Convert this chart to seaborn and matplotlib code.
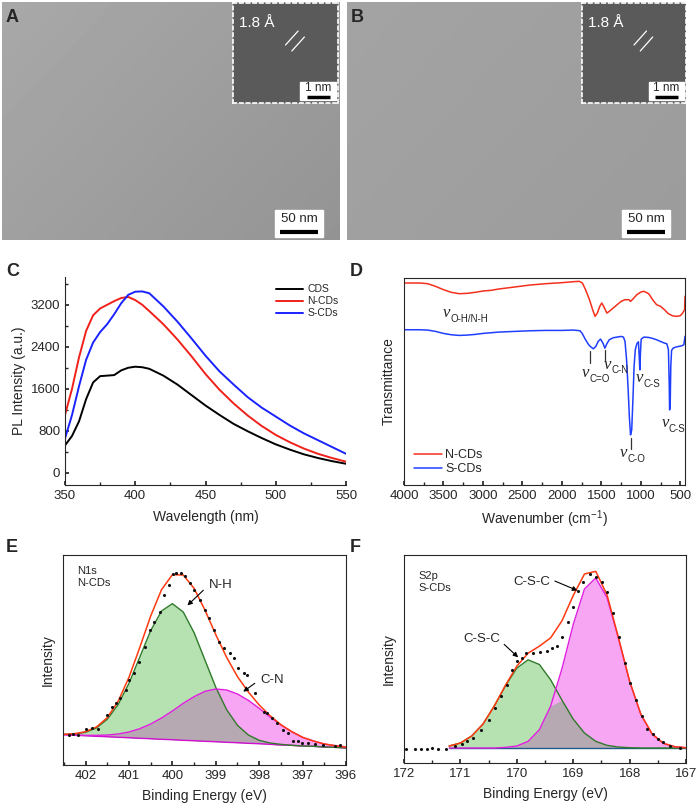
import numpy as np
import pandas as pd
import matplotlib
matplotlib.use("Agg")
import matplotlib.pyplot as plt
from matplotlib.ticker import MultipleLocator
from matplotlib.patches import Rectangle
import seaborn as sns

# ---------------- data ----------------
# Panel C: PL spectra
wavelength = [350, 355, 360, 365, 370, 375, 380, 385, 390, 395, 400, 405, 410, 420, 430, 440,
              450, 460, 470, 480, 490, 500, 510, 520, 530, 540, 550]
pl_cds = [520, 700, 980, 1400, 1720, 1840, 1850, 1860, 1950, 2000, 2020, 2010, 1980, 1850, 1680,
          1480, 1280, 1100, 930, 790, 660, 540, 440, 350, 280, 220, 170]
pl_ncds = [1100, 1600, 2200, 2700, 3000, 3130, 3200, 3270, 3330, 3350, 3290, 3200, 3080, 2830, 2540,
           2220, 1880, 1580, 1320, 1090, 890, 720, 580, 460, 360, 280, 210]
pl_scds = [650, 1100, 1650, 2150, 2480, 2680, 2830, 3020, 3230, 3390, 3450, 3455, 3420, 3170, 2880,
           2560, 2230, 1930, 1680, 1440, 1240, 1070, 900, 750, 620, 490, 360]
pl_labels = ["CDS", "N-CDs", "S-CDs"]

# Panel D: FTIR (arbitrary transmittance units)
wn_n = [4000, 3800, 3700, 3600, 3500, 3400, 3300, 3200, 3100, 3000, 2900, 2800, 2600, 2400, 2200,
        2000, 1850, 1780, 1740, 1700, 1650, 1610, 1580, 1550, 1520, 1495, 1470, 1430, 1400, 1350,
        1300, 1250, 1200, 1150, 1130, 1100, 1050, 1000, 960, 900, 850, 800, 750, 700, 650, 600,
        550, 500, 470, 445, 440]
tr_n = [605, 605, 603, 595, 585, 577, 573, 574, 577, 581, 583, 587, 593, 599, 603,
        606, 609, 610, 605, 585, 555, 525, 505, 515, 535, 545, 535, 515, 520, 530,
        540, 550, 555, 555, 550, 557, 570, 578, 580, 573, 555, 540, 535, 525, 513, 507,
        505, 507, 515, 525, 565]
wn_s = [4000, 3800, 3700, 3600, 3500, 3400, 3300, 3200, 3100, 3000, 2900, 2800, 2600, 2400, 2200,
        2000, 1850, 1770, 1740, 1700, 1660, 1630, 1600, 1570, 1540, 1510, 1480, 1455, 1430, 1400,
        1350, 1300, 1250, 1220, 1200, 1180, 1160, 1145, 1130, 1115, 1100, 1085, 1070, 1050, 1030,
        1020, 1012, 1005, 995, 960, 900, 850, 800, 750, 700, 670, 650, 640, 635, 628, 620, 610,
        590, 560, 520, 480, 455, 440]
tr_s = [465, 465, 464, 460, 454, 450, 448, 449, 451, 454, 456, 458, 460, 462, 463,
        463, 464, 462, 453, 435, 420, 413, 408, 415, 430, 437, 425, 410, 423, 435,
        441, 443, 445, 443, 430, 375, 285, 205, 150, 165, 255, 355, 405, 423, 429,
        385, 345, 395, 437, 443, 442, 439, 435, 430, 425, 423, 405, 305, 225, 235, 355, 403,
        410, 413, 415, 417, 420, 445]

# Panel E: N1s XPS
e_be = [402.5, 402.25, 402.0, 401.75, 401.5, 401.25, 401.0, 400.75, 400.5, 400.25, 400.0, 399.75,
        399.5, 399.25, 399.0, 398.75, 398.5, 398.25, 398.0, 397.75, 397.5, 397.25, 397.0, 396.75,
        396.5, 396.25, 396.0]
e_base = [91, 89, 88, 86, 85, 83, 82, 80, 79, 77, 76, 74, 73, 71, 70, 68, 67, 65, 64, 62, 60, 59,
          57, 56, 54, 53, 51]
e_nh = [92, 93, 98, 111, 137, 181, 245, 324, 403, 462, 484, 459, 397, 315, 233, 166, 119, 90, 74,
        66, 62, 59, 57, 56, 54, 53, 51]
e_cn = [91, 90, 89, 89, 90, 93, 99, 109, 123, 141, 162, 185, 205, 221, 228, 225, 213, 194, 170,
        144, 120, 100, 83, 72, 63, 58, 54]
e_fit = [92, 94, 100, 114, 142, 191, 263, 353, 447, 526, 571, 570, 530, 465, 391, 323, 265, 219,
         180, 148, 121, 100, 83, 72, 63, 58, 54]
e_pts_x = [402.38, 402.28, 402.18, 401.98, 401.85, 401.72, 401.50, 401.39, 401.30, 401.21, 401.08,
           401.00, 400.89, 400.77, 400.64, 400.51, 400.43, 400.29, 400.20, 400.08, 399.99, 399.91,
           399.79, 399.70, 399.59, 399.51, 399.36, 399.24, 399.16, 399.05, 398.93, 398.82, 398.67,
           398.59, 398.48, 398.36, 398.28, 398.09, 397.90, 397.82, 397.71, 397.59, 397.44, 397.33,
           397.21, 397.10, 397.02, 396.87, 396.71, 396.52, 396.25, 396.14]
e_pts_y = [90, 93, 90, 107, 110, 107, 150, 175, 185, 200, 225, 255, 275, 310, 355, 405, 430, 460,
           510, 540, 573, 575, 575, 567, 545, 525, 495, 465, 440, 405, 370, 350, 335, 320, 290, 275,
           270, 215, 160, 155, 140, 127, 105, 95, 73, 73, 65, 65, 62, 60, 57, 60]

# Panel F: S2p XPS
f_be = [171.2, 171.0, 170.8, 170.6, 170.4, 170.2, 170.0, 169.8, 169.6, 169.4, 169.2, 169.0, 168.8,
        168.6, 168.4, 168.2, 168.0, 167.8, 167.6, 167.4, 167.2, 167.0]
f_base = [45] * 22
f_csc1 = [51, 60, 81, 117, 171, 232, 285, 310, 296, 250, 189, 132, 90, 65, 53, 48, 46, 45, 45, 45,
          45, 45]
f_csc2 = [45, 45, 45, 45, 45, 47, 51, 65, 100, 171, 283, 416, 523, 556, 497, 376, 245, 146, 87,
          59, 49, 46]
f_fit = [51, 60, 81, 117, 171, 234, 291, 330, 351, 376, 427, 503, 568, 576, 505, 378, 246, 146, 87,
         59, 49, 46]
f_pts_x = [171.96, 171.81, 171.69, 171.59, 171.50, 171.40, 171.26, 171.10, 170.98, 170.89, 170.77,
           170.63, 170.50, 170.39, 170.28, 170.18, 170.09, 170.00, 169.91, 169.83, 169.71, 169.59,
           169.47, 169.38, 169.29, 169.19, 169.09, 169.00, 168.91, 168.82, 168.70, 168.59, 168.49,
           168.40, 168.29, 168.18, 168.08, 167.99, 167.88, 167.78, 167.69, 167.59, 167.49, 167.40,
           167.28, 167.10]
f_pts_y = [43, 42, 43, 43, 45, 43, 43, 50, 58, 65, 75, 98, 130, 165, 200, 235, 280, 305, 315, 330,
           330, 335, 338, 345, 352, 380, 425, 470, 517, 545, 568, 560, 545, 515, 450, 378, 300, 240,
           190, 140, 103, 88, 72, 62, 52, 45]

# ---------------- style ----------------
sns.set_theme(style="ticks")
plt.rcParams["font.family"] = ["Liberation Sans", "DejaVu Sans"]
plt.rcParams["mathtext.fontset"] = "custom"
plt.rcParams["mathtext.rm"] = "Liberation Sans"
plt.rcParams["mathtext.it"] = "Liberation Sans:italic"
plt.rcParams["axes.linewidth"] = 0.8

W, H = 699, 811
fig = plt.figure(figsize=(W / 100, H / 100), dpi=100)
fig.patch.set_facecolor("white")


def px_axes(x0, y0, x1, y1):
    return fig.add_axes([x0 / W, 1 - y1 / H, (x1 - x0) / W, (y1 - y0) / H])


def letter(x, y, s):
    fig.text(x / W, 1 - y / H, s, fontsize=13, fontweight="bold", ha="left", va="center")


TICK = 9.5
LAB = 10


# ---------------- TEM panels (A, B) ----------------
def tem_panel(x0, y0, x1, y1, ix0, iy0, ix1, iy1, shade, bar):
    ax = px_axes(x0, y0, x1, y1)
    g = np.linspace(0, 1, 50)
    img = shade[0] + (shade[1] - shade[0]) * np.add.outer(g * 0.4, g * 0.6)
    ax.imshow(img, cmap="gray", vmin=0, vmax=1, extent=[0, 1, 0, 1], aspect="auto",
              interpolation="bilinear")
    ax.set_xlim(0, 1)
    ax.set_ylim(0, 1)
    ax.set_xticks([])
    ax.set_yticks([])
    for s in ax.spines.values():
        s.set_visible(False)
    bx0, by0, bx1, by1 = bar
    fx = lambda v: (v - x0) / (x1 - x0)
    fy = lambda v: 1 - (v - y0) / (y1 - y0)
    ax.add_patch(Rectangle((fx(bx0), fy(by1)), fx(bx1) - fx(bx0), fy(by0) - fy(by1),
                           color="white"))
    ax.text((fx(bx0) + fx(bx1)) / 2, fy(by0 + 9), "50 nm", fontsize=9.5, ha="center",
            va="center")
    ax.plot([fx(bx0 + 5), fx(bx1 - 5)], [fy(by1 - 5), fy(by1 - 5)], color="black", lw=3,
            solid_capstyle="butt")
    # inset HRTEM
    axi = px_axes(ix0, iy0, ix1, iy1)
    axi.set_facecolor("#5a5a5a")
    axi.set_xlim(0, 1)
    axi.set_ylim(0, 1)
    axi.set_xticks([])
    axi.set_yticks([])
    for s in axi.spines.values():
        s.set_color("white")
        s.set_linestyle((0, (2, 2)))
        s.set_linewidth(1.2)
    axi.text(0.06, 0.80, "1.8 Å", color="white", fontsize=11, ha="left", va="center")
    axi.plot([0.5, 0.62], [0.58, 0.72], color="white", lw=0.9)
    axi.plot([0.56, 0.68], [0.52, 0.66], color="white", lw=0.9)
    axi.add_patch(Rectangle((0.64, 0.03), 0.34, 0.18, color="white"))
    axi.text(0.81, 0.15, "1 nm", fontsize=8.5, ha="center", va="center")
    axi.plot([0.70, 0.92], [0.065, 0.065], color="black", lw=2.5, solid_capstyle="butt")
    return ax


axA = tem_panel(2, 2, 340, 240, 233, 3, 338, 103, (0.66, 0.58), (275, 210, 323, 237))
axB = tem_panel(347, 2, 686, 240, 582, 3, 686, 103, (0.64, 0.61), (622, 210, 670, 237))
letter(6, 18, "A")
letter(351, 18, "B")

# ---------------- Panel C ----------------
axC = px_axes(65, 277, 346, 485)
n = len(wavelength)
dfC = pd.DataFrame({
    "Wavelength": wavelength * 3,
    "Intensity": pl_cds + pl_ncds + pl_scds,
    "Sample": [pl_labels[0]] * n + [pl_labels[1]] * n + [pl_labels[2]] * n,
})
sns.lineplot(data=dfC, x="Wavelength", y="Intensity", hue="Sample", estimator=None,
             palette={"CDS": "#000000", "N-CDs": "#f0201a", "S-CDs": "#1a23ff"},
             lw=1.4, ax=axC)
axC.set_xlim(350, 550)
axC.set_ylim(-235, 3730)
axC.set_xticks([350, 400, 450, 500, 550])
axC.set_yticks([0, 800, 1600, 2400, 3200])
axC.xaxis.set_minor_locator(MultipleLocator(25))
axC.yaxis.set_minor_locator(MultipleLocator(400))
axC.tick_params(which="both", direction="in", labelsize=TICK)
axC.tick_params(which="major", length=3)
axC.tick_params(which="minor", length=2)
axC.spines["top"].set_visible(False)
axC.spines["right"].set_visible(False)
axC.set_xlabel("Wavelength (nm)", fontsize=LAB, labelpad=6)
axC.set_ylabel("PL Intensity (a.u.)", fontsize=LAB, labelpad=3)
axC.legend(frameon=False, fontsize=7.5, loc="upper right", bbox_to_anchor=(1.0, 1.0),
           handlelength=2.6, handletextpad=0.4, labelspacing=0.2, borderaxespad=0.3)
letter(6, 272, "C")

# ---------------- Panel D ----------------
axD = px_axes(404, 278, 685, 485)
dfD = pd.DataFrame({
    "Wavenumber": wn_n + wn_s,
    "T": tr_n + tr_s,
    "Sample": ["N-CDs"] * len(wn_n) + ["S-CDs"] * len(wn_s),
})
sns.lineplot(data=dfD, x="Wavenumber", y="T", hue="Sample", estimator=None, sort=False,
             palette={"N-CDs": "#f5301c", "S-CDs": "#1f3fff"}, lw=1.1, ax=axD)
axD.set_xlim(4000, 440)
axD.set_ylim(0, 620)
axD.set_xticks([4000, 3500, 3000, 2500, 2000, 1500, 1000, 500])
axD.xaxis.set_minor_locator(MultipleLocator(250))
axD.set_yticks([])
axD.tick_params(which="both", direction="in", labelsize=TICK)
axD.tick_params(which="major", length=3)
axD.tick_params(which="minor", length=2)
axD.set_xlabel(r"Wavenumber (cm$^{-1}$)", fontsize=LAB, labelpad=5)
axD.set_ylabel("Transmittance", fontsize=LAB, labelpad=6)
axD.legend(frameon=False, fontsize=9, loc="lower left", handlelength=2.2,
           handletextpad=0.3, labelspacing=0.15, borderaxespad=0.4)


def nu_label(ax, x, y, sub):
    ax.text(x, y, "ν", fontfamily="Liberation Serif", style="italic", fontsize=12,
            ha="left", va="center", color="#222222")
    ax.annotate(sub, xy=(x, y), xycoords="data", xytext=(5.5, -4), textcoords="offset points",
                fontsize=7, ha="left", va="center", color="#222222")


nu_label(axD, 3505, 515, "O-H/N-H")
nu_label(axD, 1749, 335, "C=O")
nu_label(axD, 1474, 360, "C-N")
nu_label(axD, 1059, 320, "C-S")
nu_label(axD, 1262, 95, "C-O")
nu_label(axD, 740, 185, "C-S")
for xm, ya, yb in [(1643, 365, 400), (1452, 370, 405), (1127, 107, 140)]:
    axD.plot([xm, xm], [ya, yb], color="#333333", lw=0.9)
letter(350, 272, "D")

# ---------------- Panel E ----------------
axE = px_axes(63, 555, 346, 765)
dfE = pd.DataFrame({"BE": e_be, "base": e_base, "NH": e_nh, "CN": e_cn, "fit": e_fit})
ov_E = np.minimum(dfE["NH"], dfE["CN"])
axE.fill_between(dfE["BE"], dfE["base"], dfE["NH"], color="#b6e2b2", lw=0)
axE.fill_between(dfE["BE"], dfE["base"], dfE["CN"], color="#f7a6f3", lw=0)
axE.fill_between(dfE["BE"], dfE["base"], ov_E, color="#b6a9b1", lw=0)
sns.lineplot(data=dfE, x="BE", y="base", color="#d010d0", lw=1.0, ax=axE, estimator=None)
sns.lineplot(data=dfE, x="BE", y="NH", color="#2f7a2a", lw=1.0, ax=axE, estimator=None)
sns.lineplot(data=dfE, x="BE", y="CN", color="#e01ee0", lw=1.0, ax=axE, estimator=None)
sns.lineplot(data=dfE, x="BE", y="fit", color="#ff3a10", lw=1.1, ax=axE, estimator=None)
sns.scatterplot(x=e_pts_x, y=e_pts_y, color="#111111", s=5, linewidth=0, ax=axE, zorder=5)
axE.set_xlim(402.52, 396)
axE.set_ylim(0, 630)
axE.set_xticks([402, 401, 400, 399, 398, 397, 396])
axE.xaxis.set_minor_locator(MultipleLocator(0.5))
axE.set_yticks([])
axE.tick_params(which="both", direction="in", labelsize=TICK)
axE.tick_params(which="major", length=3)
axE.tick_params(which="minor", length=2)
axE.set_xlabel("Binding Energy (eV)", fontsize=LAB, labelpad=5)
axE.set_ylabel("Intensity", fontsize=LAB, labelpad=6)
axE.text(0.05, 0.895, "N1s\nN-CDs", transform=axE.transAxes, fontsize=8, ha="left",
         va="center", linespacing=1.35)
axE.text(399.16, 540, "N-H", fontsize=9.5, ha="left", va="center")
axE.annotate("", xy=(399.70, 473), xytext=(399.24, 530),
             arrowprops=dict(arrowstyle="-|>", color="black", lw=0.8, mutation_scale=7))
axE.text(397.98, 255, "C-N", fontsize=9.5, ha="left", va="center")
axE.annotate("", xy=(398.42, 215), xytext=(398.05, 250),
             arrowprops=dict(arrowstyle="-|>", color="black", lw=0.8, mutation_scale=7))
letter(6, 547, "E")

# ---------------- Panel F ----------------
axF = px_axes(404, 555, 686, 763)
dfF = pd.DataFrame({"BE": f_be, "base": f_base, "CSC1": f_csc1, "CSC2": f_csc2, "fit": f_fit})
ov_F = np.minimum(dfF["CSC1"], dfF["CSC2"])
axF.fill_between(dfF["BE"], dfF["base"], dfF["CSC1"], color="#b6e2b2", lw=0)
axF.fill_between(dfF["BE"], dfF["base"], dfF["CSC2"], color="#f7a6f3", lw=0)
axF.fill_between(dfF["BE"], dfF["base"], ov_F, color="#b6a9b1", lw=0)
sns.lineplot(data=dfF, x="BE", y="base", color="#1f5a8a", lw=1.0, ax=axF, estimator=None)
sns.lineplot(data=dfF, x="BE", y="CSC1", color="#2f7a2a", lw=1.0, ax=axF, estimator=None)
sns.lineplot(data=dfF, x="BE", y="CSC2", color="#e01ee0", lw=1.0, ax=axF, estimator=None)
sns.lineplot(data=dfF, x="BE", y="fit", color="#ff3a10", lw=1.1, ax=axF, estimator=None)
sns.scatterplot(x=f_pts_x, y=f_pts_y, color="#111111", s=5, linewidth=0, ax=axF, zorder=5)
axF.set_xlim(172, 167)
axF.set_ylim(0, 625)
axF.set_xticks([172, 171, 170, 169, 168, 167])
axF.xaxis.set_minor_locator(MultipleLocator(0.5))
axF.set_yticks([])
axF.tick_params(which="both", direction="in", labelsize=TICK)
axF.tick_params(which="major", length=3)
axF.tick_params(which="minor", length=2)
axF.set_xlabel("Binding Energy (eV)", fontsize=LAB, labelpad=5)
axF.set_ylabel("Intensity", fontsize=LAB, labelpad=6)
axF.text(0.05, 0.87, "S2p\nS-CDs", transform=axF.transAxes, fontsize=8, ha="left",
         va="center", linespacing=1.35)
axF.text(169.41, 545, "C-S-C", fontsize=9.5, ha="right", va="center")
axF.annotate("", xy=(168.88, 515), xytext=(169.37, 550),
             arrowprops=dict(arrowstyle="-|>", color="black", lw=0.8, mutation_scale=7))
axF.text(170.30, 372, "C-S-C", fontsize=9.5, ha="right", va="center")
axF.annotate("", xy=(169.94, 312), xytext=(170.26, 362),
             arrowprops=dict(arrowstyle="-|>", color="black", lw=0.8, mutation_scale=7))
letter(350, 547, "F")

fig.savefig("out.png", dpi=100)
